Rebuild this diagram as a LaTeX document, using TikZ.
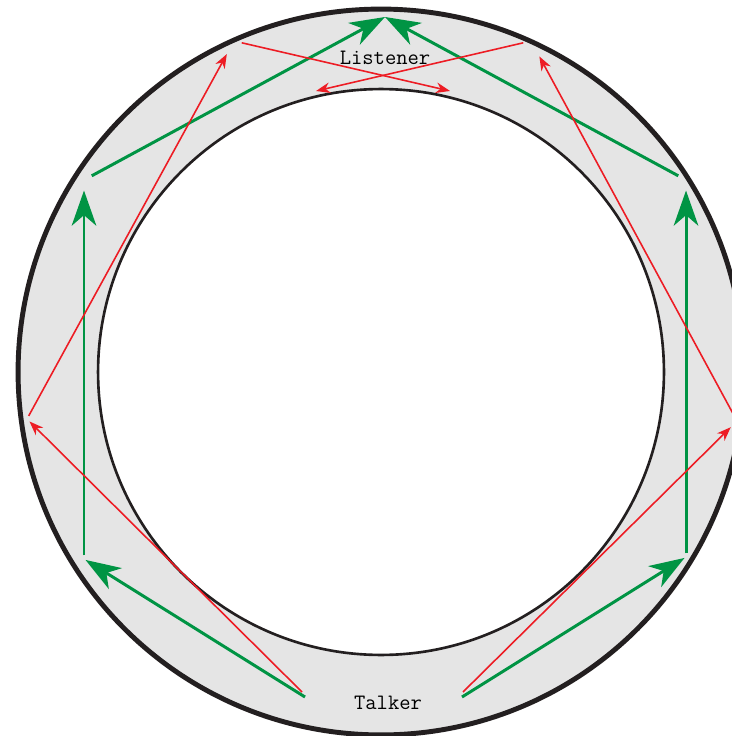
\documentclass[tikz,border=0pt]{standalone}
\usepackage{xcolor}
\usepackage{tikz}
\usetikzlibrary{arrows.meta}

\definecolor{wallgray}{HTML}{E5E5E5}
\definecolor{walledge}{HTML}{231F20}
\definecolor{raygreen}{HTML}{009444}
\definecolor{rayred}{HTML}{ED1C24}

\begin{document}
\begin{tikzpicture}[x=0.02cm,y=-0.02cm,
    greenray/.style={raygreen,line width=1.7pt,-{Stealth[length=20pt,width=14pt,inset=6pt]}},
    redray/.style={rayred,line width=0.9pt,-{Stealth[length=8pt,width=6pt,inset=2.5pt]}},
    spotlabel/.style={font=\ttfamily\fontsize{12.5}{14}\selectfont,inner sep=0pt}]
  \useasboundingbox (0,0) rectangle (731,736);

  % the gallery wall
  \coordinate (c) at (381,372);
  \fill[wallgray,even odd rule] (c) circle[radius=7.26cm] (c) circle[radius=5.66cm];
  \draw[walledge,line width=2.8pt] (c) circle[radius=7.26cm];
  \draw[walledge,line width=1.5pt] (c) circle[radius=5.66cm];

  \node[spotlabel] (listener) at (385,58) {Listener};
  \node[spotlabel] (talker) at (388,703) {Talker};

  % where the rays leave the talker and hit the wall
  \coordinate (gtl) at (305,697);
  \coordinate (gtr) at (462,697);
  \coordinate (gla) at (84,559);
  \coordinate (glb) at (84,180);
  \coordinate (gra) at (686,557);
  \coordinate (grb) at (686,180);
  \coordinate (ear) at (385,17);

  \coordinate (rtl) at (302,692);
  \coordinate (rtr) at (463,692);
  \coordinate (rla) at (27,419);
  \coordinate (rlb) at (234,41);
  \coordinate (rlc) at (450,91);
  \coordinate (rra) at (737,421);
  \coordinate (rrb) at (531,41);
  \coordinate (rrc) at (316,91);

  % green: hugging the wall
  \draw[greenray,shorten >=1pt] (gtl) -- (gla);
  \draw[greenray,shorten <=2pt,shorten >=6pt] (gla) -- (glb);
  \draw[greenray,shorten <=5pt] (glb) -- (ear);
  \draw[greenray,shorten >=1pt] (gtr) -- (gra);
  \draw[greenray,shorten <=2pt,shorten >=6pt] (gra) -- (grb);
  \draw[greenray,shorten <=5pt] (grb) -- (ear);

  % red: steeper rays
  \draw[redray,shorten >=2pt] (rtl) -- (rla);
  \draw[redray,shorten <=2pt,shorten >=8.5pt] (rla) -- (rlb);
  \draw[redray,shorten <=4.5pt] (rlb) -- (rlc);
  \draw[redray,shorten >=5pt] (rtr) -- (rra);
  \draw[redray,shorten <=4pt,shorten >=10pt] (rra) -- (rrb);
  \draw[redray,shorten <=4.5pt] (rrb) -- (rrc);
\end{tikzpicture}
\end{document}
